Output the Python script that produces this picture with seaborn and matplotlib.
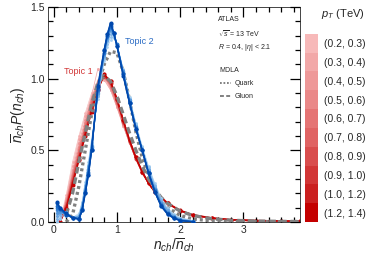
import numpy as np
import pandas as pd
import matplotlib
matplotlib.use("Agg")
import matplotlib.pyplot as plt
from matplotlib.lines import Line2D
import seaborn as sns

# ---- data -------------------------------------------------------------
pt_bins = ["(0.2, 0.3)", "(0.3, 0.4)", "(0.4, 0.5)", "(0.5, 0.6)", "(0.6, 0.7)",
           "(0.7, 0.8)", "(0.8, 0.9)", "(0.9, 1.0)", "(1.0, 1.2)", "(1.2, 1.4)"]

# Topic 1 (red), one curve per pT bin, lowest pT first
x_topic1 = [0.1, 0.2, 0.3, 0.4, 0.5, 0.6, 0.7, 0.8, 0.9, 1.0, 1.1, 1.2,
            1.3, 1.4, 1.5, 1.6, 1.8, 2.0, 2.2, 2.5, 2.8, 3.2, 3.6, 3.9]
topic1 = [
    [0.0, 0.19, 0.42, 0.60, 0.76, 0.90, 0.99, 1.00, 0.92, 0.80, 0.67, 0.55, 0.44, 0.35, 0.28, 0.22, 0.14, 0.085, 0.052, 0.027, 0.014, 0.007, 0.003, 0.002],
    [0.0, 0.17, 0.39, 0.58, 0.74, 0.88, 1.07, 0.99, 0.92, 0.80, 0.67, 0.55, 0.44, 0.35, 0.27, 0.21, 0.13, 0.080, 0.050, 0.026, 0.013, 0.006, 0.003, 0.002],
    [0.0, 0.15, 0.36, 0.55, 0.71, 0.87, 0.98, 1.01, 0.93, 0.81, 0.68, 0.55, 0.44, 0.34, 0.27, 0.21, 0.13, 0.080, 0.050, 0.026, 0.013, 0.006, 0.003, 0.002],
    [0.0, 0.14, 0.34, 0.52, 0.69, 0.86, 0.97, 1.02, 0.94, 0.82, 0.68, 0.55, 0.44, 0.34, 0.27, 0.21, 0.13, 0.080, 0.048, 0.025, 0.013, 0.006, 0.004, 0.002],
    [0.0, 0.13, 0.32, 0.50, 0.67, 0.84, 0.96, 1.02, 0.95, 0.83, 0.69, 0.56, 0.44, 0.34, 0.27, 0.21, 0.13, 0.078, 0.047, 0.025, 0.013, 0.007, 0.004, 0.003],
    [0.0, 0.12, 0.31, 0.48, 0.65, 0.82, 0.95, 1.01, 0.96, 0.84, 0.70, 0.56, 0.44, 0.35, 0.27, 0.21, 0.13, 0.078, 0.047, 0.025, 0.014, 0.007, 0.004, 0.003],
    [0.0, 0.11, 0.29, 0.46, 0.63, 0.80, 0.94, 1.02, 0.97, 0.85, 0.70, 0.56, 0.44, 0.35, 0.27, 0.21, 0.13, 0.077, 0.047, 0.025, 0.014, 0.008, 0.005, 0.003],
    [0.0, 0.10, 0.28, 0.45, 0.62, 0.79, 0.94, 1.03, 0.97, 0.85, 0.71, 0.57, 0.45, 0.35, 0.27, 0.21, 0.13, 0.077, 0.047, 0.026, 0.015, 0.008, 0.005, 0.004],
    [0.0, 0.10, 0.27, 0.44, 0.61, 0.78, 0.93, 1.02, 0.98, 0.86, 0.71, 0.57, 0.45, 0.35, 0.27, 0.21, 0.13, 0.078, 0.048, 0.027, 0.015, 0.009, 0.006, 0.004],
    [0.0, 0.09, 0.26, 0.43, 0.60, 0.77, 0.92, 1.03, 0.98, 0.86, 0.71, 0.57, 0.45, 0.35, 0.27, 0.21, 0.13, 0.080, 0.050, 0.028, 0.016, 0.010, 0.007, 0.005],
]

# Topic 2 (blue)
x_topic2 = [0.05, 0.1, 0.2, 0.3, 0.4, 0.45, 0.5, 0.55, 0.6, 0.7, 0.8, 0.85, 0.9,
            0.95, 1.0, 1.1, 1.2, 1.3, 1.4, 1.5, 1.6, 1.7, 1.8, 1.9, 2.0, 2.2]
topic2 = [
    [0.00, 0.02, 0.06, 0.03, 0.06, 0.14, 0.28, 0.42, 0.58, 0.86, 1.12, 1.22, 1.27, 1.28, 1.24, 1.07, 0.87, 0.69, 0.53, 0.39, 0.27, 0.17, 0.10, 0.055, 0.030, 0.010],
    [0.00, 0.03, 0.07, 0.03, 0.05, 0.13, 0.26, 0.40, 0.56, 0.88, 1.14, 1.24, 1.29, 1.29, 1.24, 1.06, 0.86, 0.68, 0.52, 0.38, 0.26, 0.16, 0.09, 0.050, 0.025, 0.008],
    [0.02, 0.05, 0.07, 0.03, 0.04, 0.12, 0.25, 0.39, 0.55, 0.88, 1.15, 1.26, 1.31, 1.30, 1.24, 1.06, 0.86, 0.67, 0.51, 0.37, 0.25, 0.15, 0.085, 0.045, 0.022, 0.006],
    [0.04, 0.06, 0.06, 0.03, 0.04, 0.11, 0.24, 0.38, 0.54, 0.89, 1.16, 1.27, 1.33, 1.31, 1.24, 1.05, 0.85, 0.67, 0.51, 0.36, 0.24, 0.14, 0.08, 0.040, 0.020, 0.005],
    [0.06, 0.07, 0.06, 0.03, 0.03, 0.10, 0.23, 0.37, 0.53, 0.90, 1.17, 1.28, 1.34, 1.31, 1.24, 1.05, 0.85, 0.66, 0.50, 0.35, 0.23, 0.13, 0.07, 0.035, 0.016, 0.004],
    [0.08, 0.08, 0.05, 0.03, 0.03, 0.09, 0.22, 0.36, 0.52, 0.91, 1.18, 1.29, 1.35, 1.32, 1.24, 1.04, 0.84, 0.66, 0.50, 0.35, 0.22, 0.125, 0.065, 0.032, 0.014, 0.003],
    [0.10, 0.09, 0.05, 0.03, 0.02, 0.09, 0.21, 0.35, 0.51, 0.92, 1.18, 1.30, 1.36, 1.32, 1.24, 1.04, 0.84, 0.65, 0.50, 0.34, 0.22, 0.12, 0.06, 0.030, 0.012, 0.002],
    [0.11, 0.09, 0.05, 0.03, 0.02, 0.08, 0.21, 0.34, 0.50, 0.93, 1.19, 1.30, 1.37, 1.32, 1.23, 1.03, 0.83, 0.65, 0.50, 0.34, 0.21, 0.115, 0.058, 0.028, 0.011, 0.001],
    [0.13, 0.10, 0.05, 0.03, 0.02, 0.08, 0.20, 0.33, 0.50, 0.94, 1.20, 1.31, 1.38, 1.32, 1.23, 1.03, 0.83, 0.65, 0.50, 0.34, 0.21, 0.11, 0.056, 0.026, 0.010, 0.0],
    [0.14, 0.10, 0.06, 0.03, 0.02, 0.08, 0.20, 0.33, 0.50, 0.95, 1.20, 1.31, 1.39, 1.32, 1.23, 1.02, 0.83, 0.65, 0.50, 0.34, 0.21, 0.11, 0.055, 0.025, 0.010, 0.0],
]

# MDLA quark / gluon references
x_mdla = [0.2, 0.3, 0.4, 0.5, 0.6, 0.7, 0.8, 0.9, 1.0, 1.1, 1.2, 1.3, 1.4,
          1.5, 1.6, 1.7, 1.8, 2.0, 2.2, 2.5, 2.8, 3.2, 3.6, 3.9]
quark = [0.0, 0.05, 0.25, 0.50, 0.75, 0.95, 1.10, 1.19, 1.18, 1.05, 0.85, 0.63, 0.45,
         0.32, 0.22, 0.15, 0.10, 0.045, 0.02, 0.008, 0.004, 0.002, 0.001, 0.001]
gluon = [0.05, 0.20, 0.42, 0.62, 0.82, 0.97, 1.02, 0.98, 0.88, 0.75, 0.62, 0.50, 0.39,
         0.30, 0.23, 0.17, 0.13, 0.075, 0.045, 0.022, 0.012, 0.006, 0.004, 0.003]

reds = ["#f7b9b9", "#f2a8a8", "#ee9898", "#ea8888", "#e57474",
        "#e06363", "#d94d4d", "#d23636", "#cb2020", "#c40000"]
blues = ["#a8d0f0", "#93c2ec", "#7fb4e7", "#6aa6e2", "#5597dc",
         "#4088d6", "#2b78cf", "#1a68c5", "#0c58ba", "#0048ad"]

# ---- style ------------------------------------------------------------
sns.set_style("ticks")
plt.rcParams["font.family"] = ["Liberation Sans", "DejaVu Sans"]
plt.rcParams["mathtext.fontset"] = "custom"
plt.rcParams["mathtext.it"] = "Liberation Sans:italic"
plt.rcParams["mathtext.rm"] = "Liberation Sans"
plt.rcParams["axes.axisbelow"] = False

fig = plt.figure(figsize=(3.8, 2.56), dpi=100)
ax = fig.add_axes([0.126, 0.133, 0.663, 0.840])

# ---- curves -----------------------------------------------------------
for i, (vals, col) in enumerate(zip(topic1, reds)):
    sns.lineplot(x=x_topic1, y=vals, ax=ax, color=col, lw=0.45 + 0.07 * i,
                 marker="o", markersize=2.0 + 0.1 * i, markeredgewidth=0, zorder=2)

df_mdla = pd.DataFrame({"x": x_mdla, "quark": quark, "gluon": gluon})
sns.lineplot(data=df_mdla, x="x", y="gluon", ax=ax, color="#808080", lw=2.4,
             linestyle=(0, (2.0, 1.2)), zorder=3)
sns.lineplot(data=df_mdla, x="x", y="quark", ax=ax, color="#808080", lw=2.4,
             linestyle=(0, (0.9, 0.9)), zorder=3)

for i, (vals, col) in enumerate(zip(topic2, blues)):
    sns.lineplot(x=x_topic2, y=vals, ax=ax, color=col, lw=0.45 + 0.07 * i,
                 marker="o", markersize=2.0 + 0.1 * i, markeredgewidth=0, zorder=4)

# ---- axes -------------------------------------------------------------
ax.set_xlim(-0.09, 3.89)
ax.set_ylim(0, 1.5)
ax.set_xticks([0, 1, 2, 3])
ax.set_yticks([0.0, 0.5, 1.0, 1.5])
ax.set_xticks(np.arange(0, 3.9, 0.2), minor=True)
ax.set_yticks(np.arange(0, 1.5, 0.1), minor=True)
ax.set_yticklabels(["0.0", "0.5", "1.0", "1.5"])
ax.tick_params(which="both", direction="in", top=True, right=True,
               bottom=True, left=True, labelsize=7.5, pad=2,
               color="black", width=0.9)
ax.tick_params(which="major", length=7)
ax.tick_params(which="minor", length=3.5)
for sp in ax.spines.values():
    sp.set_linewidth(0.7)
    sp.set_color("#444444")
ax.set_xlabel(r"$n_{ch}/\overline{n}_{ch}$", fontsize=10, labelpad=1)
ax.set_ylabel(r"$\overline{n}_{ch}P(n_{ch})$", fontsize=10, labelpad=2)

ax.text(1.13, 1.26, "Topic 2", color="#2b6cc4", fontsize=6.5, va="center")
ax.text(0.16, 1.05, "Topic 1", color="#d23636", fontsize=6.5, va="center")

ax.text(0.675, 0.94, "ATLAS", transform=ax.transAxes, fontsize=5, va="center")
ax.text(0.675, 0.874, r"$\sqrt{s}$ = 13 TeV", transform=ax.transAxes,
        fontsize=5, va="center")
ax.text(0.675, 0.81, r"$R$ = 0.4, $|\eta|$ < 2.1", transform=ax.transAxes,
        fontsize=5, va="center")

handles = [Line2D([], [], color="#808080", lw=1.4, linestyle=(0, (0.9, 0.9))),
           Line2D([], [], color="#808080", lw=1.4, linestyle=(0, (2.0, 1.2)))]
leg = ax.legend(handles, ["Quark", "Gluon"], title="MDLA", frameon=False,
                fontsize=5, title_fontsize=5, alignment="left",
                loc="upper left", bbox_to_anchor=(0.665, 0.74),
                handlelength=1.6, handletextpad=0.5, labelspacing=0.9,
                borderaxespad=0.2)

# ---- pT colour key ----------------------------------------------------
lax = fig.add_axes([0.803, 0.133, 0.034, 0.735])
lax.barh(range(len(pt_bins)), [1] * len(pt_bins), height=1.0, color=reds,
         edgecolor="none")
lax.set_xlim(0, 1)
lax.set_ylim(len(pt_bins) - 0.5, -0.5)
lax.set_xticks([])
lax.set_yticks(range(len(pt_bins)))
lax.set_yticklabels(pt_bins)
lax.yaxis.tick_right()
lax.tick_params(axis="y", which="both", length=0, labelsize=7.5, pad=4)
for sp in lax.spines.values():
    sp.set_visible(False)
fig.text(0.845, 0.945, r"$p_T$ (TeV)", fontsize=8, va="center")

fig.savefig("out.png", dpi=100)
